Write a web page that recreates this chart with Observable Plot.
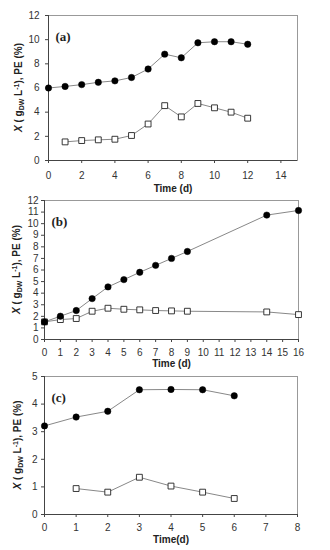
<!DOCTYPE html>
<html>
<head>
<meta charset="utf-8">
<script src="https://cdn.jsdelivr.net/npm/d3@7"></script>
<script src="https://cdn.jsdelivr.net/npm/@observablehq/plot@0.6"></script>
<style>
  html, body { margin: 0; padding: 0; background: #fff; }
  #wrap { position: relative; width: 330px; height: 550px; overflow: hidden; }
  #wrap > div { position: absolute; left: 0; }
</style>
</head>
<body>
<div id="wrap">
  <div id="pa" style="top:0px"></div>
  <div id="pb" style="top:192px"></div>
  <div id="pc" style="top:365px"></div>
</div>
<script>
// ---- Panel (a) ----
const timeA   = [0, 1, 2, 3, 4, 5, 6, 7, 8, 9, 10, 11, 12];
const biomassA = [6.0, 6.13, 6.28, 6.47, 6.59, 6.87, 7.57, 8.8, 8.5, 9.74, 9.83, 9.83, 9.62];
const peTimeA = [1, 2, 3, 4, 5, 6, 7, 8, 9, 10, 11, 12];
const peA     = [1.54, 1.65, 1.71, 1.76, 2.07, 3.02, 4.54, 3.61, 4.72, 4.36, 4.0, 3.5];
const xTicksA = [0, 2, 4, 6, 8, 10, 12, 14];
const yTicksA = [0, 2, 4, 6, 8, 10, 12];

// ---- Panel (b) ----
const timeB   = [0, 1, 2, 3, 4, 5, 6, 7, 8, 9, 14, 16];
const biomassB = [1.52, 2.01, 2.5, 3.53, 4.54, 5.17, 5.8, 6.4, 7.0, 7.6, 10.74, 11.14];
const peTimeB = [0, 1, 2, 3, 4, 5, 6, 7, 8, 9, 14, 16];
const peB     = [1.52, 1.72, 1.81, 2.44, 2.7, 2.61, 2.56, 2.5, 2.47, 2.44, 2.38, 2.15];
const xTicksB = [0, 1, 2, 3, 4, 5, 6, 7, 8, 9, 10, 11, 12, 13, 14, 15, 16];
const yTicksB = [0, 1, 2, 3, 4, 5, 6, 7, 8, 9, 10, 11, 12];

// ---- Panel (c) ----
const timeC   = [0, 1, 2, 3, 4, 5, 6];
const biomassC = [3.21, 3.53, 3.74, 4.52, 4.53, 4.52, 4.3];
const peTimeC = [1, 2, 3, 4, 5, 6];
const peC     = [0.94, 0.81, 1.35, 1.03, 0.81, 0.58];
const xTicksC = [0, 1, 2, 3, 4, 5, 6, 7, 8];
const yTicksC = [0, 1, 2, 3, 4, 5];

const panels = [
  {id: "pa", label: "(a)", xTitle: "Time (d)", t: timeA, x: biomassA, pt: peTimeA, pe: peA,
   xDomain: [0, 15], yDomain: [0, 12], xTicks: xTicksA, yTicks: yTicksA,
   height: 200, mt: 15, mb: 40, ml: 48, mr: 33, titleDy: 28, xPad: 8, yPad: 6, ylx: 22},
  {id: "pb", label: "(b)", xTitle: "Time (d)", t: timeB, x: biomassB, pt: peTimeB, pe: peB,
   xDomain: [0, 16], yDomain: [0, 12], xTicks: xTicksB, yTicks: yTicksB,
   height: 180, mt: 8, mb: 33, ml: 44, mr: 32, titleDy: 24, xPad: 6, yPad: 3, ylx: 20},
  {id: "pc", label: "(c)", xTitle: "Time(d)", t: timeC, x: biomassC, pt: peTimeC, pe: peC,
   xDomain: [0, 8], yDomain: [0, 5], xTicks: xTicksC, yTicks: yTicksC,
   height: 185, mt: 11, mb: 36, ml: 44, mr: 33, titleDy: 25, xPad: 6, yPad: 4, ylx: 21}
];

const fmt = d3.format("d");

for (const p of panels) {
  const xs = p.t.map((d, i) => ({t: d, v: p.x[i]}));
  const ps = p.pt.map((d, i) => ({t: d, v: p.pe[i]}));
  const chart = Plot.plot({
    width: 330,
    height: p.height,
    marginTop: p.mt,
    marginBottom: p.mb,
    marginLeft: p.ml,
    marginRight: p.mr,
    style: {fontFamily: "'Liberation Sans', Arial, sans-serif", fontSize: "10px", color: "#333", background: "transparent"},
    x: {domain: p.xDomain, label: null},
    y: {domain: p.yDomain, label: null},
    marks: [
      Plot.frame({stroke: "#999"}),
      Plot.ruleX([p.xDomain[0]], {stroke: "#444"}),
      Plot.ruleY([p.yDomain[0]], {stroke: "#444"}),
      Plot.axisX({ticks: p.xTicks, tickFormat: fmt, tickSize: 3, tickPadding: p.xPad, label: null, stroke: "#444"}),
      Plot.axisY({ticks: p.yTicks, tickFormat: fmt, tickSize: 3, tickPadding: p.yPad, label: null, stroke: "#444"}),
      Plot.line(ps, {x: "t", y: "v", stroke: "#888", strokeWidth: 1}),
      Plot.line(xs, {x: "t", y: "v", stroke: "#888", strokeWidth: 1}),
      Plot.dot(ps, {x: "t", y: "v", symbol: "square", r: 3.3, fill: "white", stroke: "#222", strokeWidth: 0.9}),
      Plot.dot(xs, {x: "t", y: "v", r: 3.2, fill: "black", stroke: "black", strokeWidth: 0.5}),
      Plot.text([p.label], {frameAnchor: "top-left", dx: 7, dy: 21, lineAnchor: "middle",
        fontFamily: "'Liberation Serif', 'Times New Roman', serif", fontSize: 13, fontWeight: "bold", fill: "#222"}),
      Plot.text([p.xTitle], {frameAnchor: "bottom", dy: p.titleDy, lineAnchor: "middle", fontWeight: "bold", fontSize: 10, fill: "#222"})
    ]
  });
  const cy = p.mt + (p.height - p.mt - p.mb) / 2;
  const lab = d3.select(chart).append("text")
    .attr("transform", `translate(${p.ylx},${cy}) rotate(-90)`)
    .attr("text-anchor", "middle")
    .attr("font-family", "'Liberation Sans', Arial, sans-serif")
    .attr("font-size", 10)
    .attr("font-weight", "bold")
    .attr("fill", "#222");
  lab.append("tspan").attr("font-style", "italic").text("X");
  lab.append("tspan").text(" ( g");
  lab.append("tspan").attr("font-size", 7).attr("dy", 2).text("DW");
  lab.append("tspan").attr("dy", -2).text(" L");
  lab.append("tspan").attr("font-size", 7).attr("dy", -3).text("-1");
  lab.append("tspan").attr("dy", 3).text("), PE (%)");
  document.getElementById(p.id).appendChild(chart);
}
</script>
</body>
</html>
